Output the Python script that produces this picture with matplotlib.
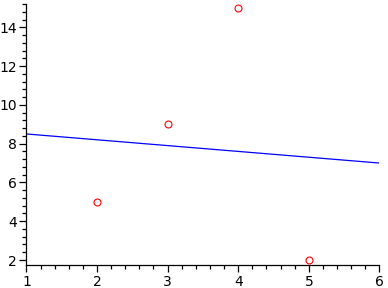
import matplotlib
matplotlib.use("Agg")
import matplotlib.pyplot as plt
from matplotlib.ticker import MultipleLocator

# data points and fitted line
x_pts = [2, 3, 4, 5]
y_pts = [5, 9, 15, 2]
line_x = [1, 6]
line_y = [8.5, 7.0]

fig = plt.figure(figsize=(3.88, 2.88), dpi=100)
ax = fig.add_axes([0.068, 0.079, 0.910, 0.907])

ax.plot(line_x, line_y, color="#0000ff", linewidth=0.9)
ax.plot(x_pts, y_pts, linestyle="none", marker="o", markersize=5,
        markerfacecolor="none", markeredgecolor="#ff0000", markeredgewidth=0.8)

ax.set_xlim(1, 6)
ax.set_ylim(1.73, 15.2)

for side in ["top", "right"]:
    ax.spines[side].set_visible(False)
for side in ["left", "bottom"]:
    ax.spines[side].set_linewidth(0.9)

ax.xaxis.set_major_locator(MultipleLocator(1))
ax.xaxis.set_minor_locator(MultipleLocator(0.2))
ax.yaxis.set_major_locator(MultipleLocator(2))
ax.yaxis.set_minor_locator(MultipleLocator(0.4))
ax.tick_params(which="major", length=5, width=0.9, labelsize=10, pad=2)
ax.tick_params(which="minor", length=3, width=0.9)

fig.savefig("out.png", dpi=100)
